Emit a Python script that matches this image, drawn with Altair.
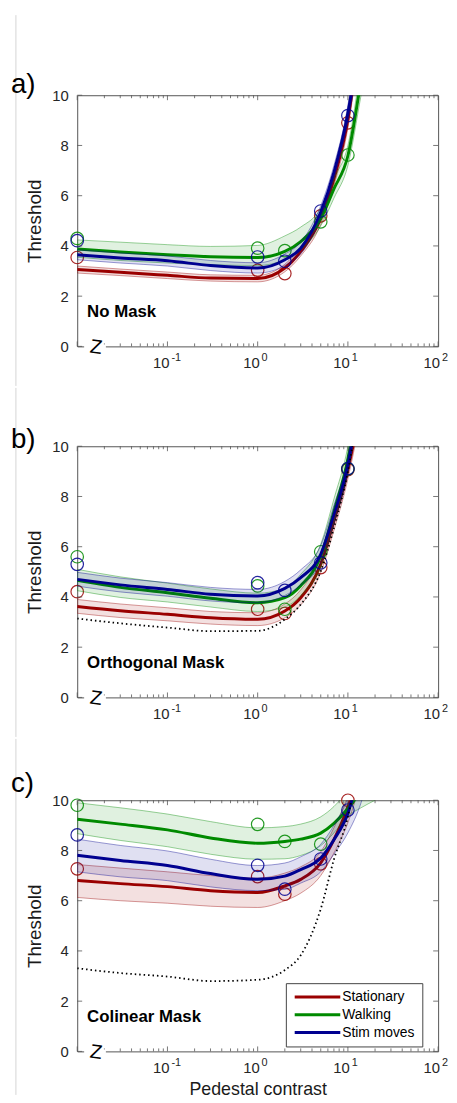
import altair as alt
import pandas as pd

SERIES = ["Stationary", "Walking", "Stim moves"]
COLORS = ["#9a0000", "#008a00", "#000090"]

X_CURVE = [0.01, 0.03, 0.1, 0.3, 1, 2, 3, 5, 7, 10, 14, 20]
X_POINTS = [0.01, 1, 2, 5, 10]

# ---- panel a) No Mask ----
A_RED_MID = [3.06, 2.95, 2.83, 2.72, 2.70, 3.12, 3.78, 5.09, 6.67, 9.03, 13.0, 18.0]
A_RED_HI = [3.20, 3.08, 2.96, 2.85, 2.83, 3.27, 3.95, 5.30, 6.95, 9.35, 13.5, 18.5]
A_RED_LO = [2.92, 2.82, 2.70, 2.60, 2.57, 2.97, 3.60, 4.85, 6.40, 8.70, 12.5, 17.5]
A_GRN_MID = [3.88, 3.76, 3.65, 3.57, 3.54, 3.78, 4.17, 5.09, 6.27, 7.59, 10.6, 14.0]
A_GRN_HI = [4.24, 4.15, 4.05, 3.98, 4.02, 4.40, 4.75, 5.50, 6.70, 8.00, 11.2, 15.0]
A_GRN_LO = [3.55, 3.42, 3.32, 3.25, 3.22, 3.45, 3.85, 4.80, 5.90, 7.20, 10.0, 13.0]
A_BLU_MID = [3.65, 3.52, 3.41, 3.22, 3.12, 3.45, 3.91, 5.35, 6.93, 9.29, 12.8, 18.0]
A_BLU_HI = [3.85, 3.72, 3.60, 3.42, 3.33, 3.68, 4.15, 5.60, 7.20, 9.60, 13.5, 18.5]
A_BLU_LO = [3.45, 3.32, 3.20, 3.02, 2.92, 3.22, 3.68, 5.10, 6.65, 8.95, 12.2, 17.5]
A_RED_PTS = [3.54, 3.03, 2.90, 5.20, 8.90]
A_GRN_PTS = [4.30, 3.91, 3.81, 4.96, 7.62]
A_BLU_PTS = [4.21, 3.56, 3.39, 5.39, 9.19]

# ---- panel b) Orthogonal Mask ----
B_RED_MID = [3.62, 3.45, 3.31, 3.17, 3.11, 3.44, 3.97, 5.30, 7.02, 9.07, 11.8, 16.0]
B_RED_HI = [3.90, 3.72, 3.57, 3.42, 3.37, 3.72, 4.28, 5.65, 7.40, 9.45, 12.4, 16.5]
B_RED_LO = [3.35, 3.18, 3.05, 2.92, 2.86, 3.17, 3.68, 4.97, 6.65, 8.70, 11.4, 15.5]
B_GRN_MID = [4.66, 4.38, 4.17, 3.95, 3.77, 3.97, 4.45, 5.63, 7.40, 9.50, 12.8, 17.0]
B_GRN_HI = [5.10, 4.80, 4.55, 4.32, 4.15, 4.35, 4.90, 6.10, 7.90, 10.0, 13.5, 17.5]
B_GRN_LO = [4.25, 3.98, 3.80, 3.60, 3.42, 3.60, 4.05, 5.20, 6.95, 9.00, 12.2, 16.5]
B_BLU_MID = [4.70, 4.48, 4.30, 4.11, 4.04, 4.34, 4.77, 5.70, 7.28, 9.27, 12.5, 17.0]
B_BLU_HI = [4.98, 4.75, 4.57, 4.38, 4.30, 4.62, 5.08, 6.05, 7.65, 9.60, 13.5, 17.5]
B_BLU_LO = [4.43, 4.20, 4.03, 3.84, 3.77, 4.06, 4.47, 5.35, 6.92, 8.95, 12.3, 16.5]
B_DOT = [3.14, 2.95, 2.78, 2.64, 2.65, 3.11, 3.70, 5.03, 6.75, 9.00, 12.2, 16.0]
B_RED_PTS = [4.21, 3.51, 3.34, 5.17, 9.07]
B_GRN_PTS = [5.60, 4.44, 3.51, 5.80, 9.10]
B_BLU_PTS = [5.30, 4.57, 4.26, 5.36, 9.11]

# ---- panel c) Colinear Mask ----
C_RED_MID = [6.81, 6.68, 6.56, 6.40, 6.33, 6.59, 6.85, 7.51, 8.43, 9.74, 11.5, 14.0]
C_RED_HI = [7.44, 7.30, 7.15, 7.00, 6.90, 7.10, 7.35, 7.95, 8.90, 10.2, 12.0, 14.5]
C_RED_LO = [6.13, 6.00, 5.90, 5.78, 5.73, 6.00, 6.30, 7.00, 7.90, 9.10, 10.8, 13.0]
C_GRN_MID = [9.24, 9.05, 8.82, 8.50, 8.29, 8.36, 8.45, 8.69, 9.08, 9.67, 10.4, 11.5]
C_GRN_HI = [9.90, 9.70, 9.45, 9.15, 8.90, 8.95, 9.05, 9.34, 9.75, 10.4, 11.2, 12.5]
C_GRN_LO = [8.67, 8.40, 8.15, 7.85, 7.65, 7.67, 7.80, 8.19, 8.70, 9.37, 9.70, 10.0]
C_BLU_MID = [7.81, 7.60, 7.40, 7.08, 6.85, 6.98, 7.24, 7.70, 8.43, 9.48, 11.5, 14.0]
C_BLU_HI = [8.45, 8.20, 7.98, 7.65, 7.40, 7.50, 7.75, 8.25, 9.00, 10.1, 12.0, 14.5]
C_BLU_LO = [7.15, 6.95, 6.80, 6.55, 6.40, 6.45, 6.70, 7.15, 7.85, 8.70, 9.90, 12.0]
C_DOT = [3.31, 3.12, 2.98, 2.80, 2.85, 3.24, 3.83, 5.67, 7.64, 9.34, 12.0, 15.0]
C_RED_PTS = [7.27, 6.96, 6.26, 7.47, 10.0]
C_GRN_PTS = [9.80, 9.04, 8.36, 8.25, None]
C_BLU_PTS = [8.62, 7.41, 6.46, 7.66, 9.61]

Y_TICKS = [0, 2, 4, 6, 8, 10]
X_MAJOR = [0.01, 0.1, 1, 10, 100]
X_MINOR = [m * d for d in [0.01, 0.1, 1, 10] for m in range(2, 10)]
X_LABEL_VALUES = [0.1, 1, 10, 100]
X_LABEL_BASE = ["10", "10", "10", "10"]
X_LABEL_EXP = ["-1", "0", "1", "2"]

W, H = 365, 254
FONT = "Liberation Sans"
TEXT_COL = "#262626"

x_scale = alt.Scale(type="log", domain=[0.01, 100], nice=False)
y_scale = alt.Scale(domain=[0, 10], nice=False)
col_scale = alt.Scale(domain=SERIES, range=COLORS)


def panel(letter, letter_y, name, curves, points, dot, show_legend, show_xtitle, rule_top, rule_bottom):
    layers = []
    xenc = alt.X("x:Q", scale=x_scale,
                 axis=alt.Axis(values=X_LABEL_VALUES, ticks=False, domain=False, grid=False, labels=False,
                               title="Pedestal contrast" if show_xtitle else None,
                               titleFontSize=18, titleFontWeight="normal", titlePadding=30))
    yenc = alt.Y("y:Q", scale=y_scale,
                 axis=alt.Axis(values=Y_TICKS, ticks=False, domain=False, grid=False,
                               labelPadding=9, labelFontSize=15, title="Threshold",
                               titleFontSize=19, titleFontWeight="normal", titlePadding=7))
    # thin gray page line at left
    layers.append(alt.Chart(pd.DataFrame({"k": [0]})).mark_rule(color="#d4d4d4", strokeWidth=1).encode(
        x=alt.value(-62), y=alt.value(rule_top), y2=alt.value(rule_bottom)))
    for i, s in enumerate(SERIES):
        mid, lo, hi = curves[i]
        cdf = pd.DataFrame({"x": X_CURVE, "y": mid, "lo": lo, "hi": hi, "series": s})
        pts = [(xv, yv) for xv, yv in zip(X_POINTS, points[i]) if yv is not None]
        pdf = pd.DataFrame({"x": [p[0] for p in pts], "y": [p[1] for p in pts], "series": s})
        band = alt.Chart(cdf).mark_area(interpolate="monotone", clip=True, fillOpacity=0.12,
                                        strokeOpacity=0.5, strokeWidth=0.8).encode(
            x=xenc, y=alt.Y("lo:Q", scale=y_scale), y2="hi:Q",
            fill=alt.Fill("series:N", scale=col_scale, legend=None),
            stroke=alt.Stroke("series:N", scale=col_scale, legend=None))
        leg = None
        if show_legend:
            leg = alt.Legend(orient="none", legendX=211, legendY=185, title=None,
                             strokeColor="#444", fillColor="white", padding=7,
                             symbolType="M-5,0H5", symbolSize=85, symbolStrokeWidth=3,
                             symbolOffset=18, labelOffset=18,
                             labelFontSize=14, labelFont=FONT, labelColor="black",
                             rowPadding=4)
        line = alt.Chart(cdf).mark_line(interpolate="monotone", clip=True, strokeWidth=3).encode(
            x=xenc, y=yenc, color=alt.Color("series:N", scale=col_scale, legend=leg))
        pt = alt.Chart(pdf).mark_point(shape="circle", size=160, strokeWidth=1.2, opacity=0.85,
                                       filled=False).encode(
            x=xenc, y=alt.Y("y:Q", scale=y_scale),
            stroke=alt.Stroke("series:N", scale=col_scale, legend=None))
        layers += [band, pt, line]
    if dot is not None:
        ddf = pd.DataFrame({"x": X_CURVE, "y": dot})
        layers.append(alt.Chart(ddf).mark_line(interpolate="monotone", clip=True, color="black",
                                               strokeWidth=1.8, strokeDash=[1.5, 3]).encode(
            x=xenc, y=alt.Y("y:Q", scale=y_scale)))
    # inner ticks
    tk = dict(color="#555", strokeWidth=0.8)
    xmaj = pd.DataFrame({"x": X_MAJOR})
    xmin = pd.DataFrame({"x": X_MINOR})
    ytk = pd.DataFrame({"y": Y_TICKS})
    layers += [
        alt.Chart(xmaj).mark_rule(**tk).encode(x=alt.X("x:Q", scale=x_scale), y=alt.value(H), y2=alt.value(H - 5)),
        alt.Chart(xmaj).mark_rule(**tk).encode(x=alt.X("x:Q", scale=x_scale), y=alt.value(0), y2=alt.value(5)),
        alt.Chart(xmin).mark_rule(**tk).encode(x=alt.X("x:Q", scale=x_scale), y=alt.value(H), y2=alt.value(H - 3)),
        alt.Chart(xmin).mark_rule(**tk).encode(x=alt.X("x:Q", scale=x_scale), y=alt.value(0), y2=alt.value(3)),
        alt.Chart(ytk).mark_rule(**tk).encode(y=alt.Y("y:Q", scale=y_scale), x=alt.value(0), x2=alt.value(5)),
        alt.Chart(ytk).mark_rule(**tk).encode(y=alt.Y("y:Q", scale=y_scale), x=alt.value(W), x2=alt.value(W - 5)),
    ]
    # x tick labels: "10" with a raised exponent
    ldf = pd.DataFrame({"x": X_LABEL_VALUES, "base": X_LABEL_BASE, "exp": X_LABEL_EXP})
    layers.append(alt.Chart(ldf).mark_text(font=FONT, fontSize=15, color=TEXT_COL, align="right",
                                           baseline="alphabetic", dx=2).encode(
        x=alt.X("x:Q", scale=x_scale), y=alt.value(H + 22), text="base:N"))
    layers.append(alt.Chart(ldf).mark_text(font=FONT, fontSize=11, color=TEXT_COL, align="left",
                                           baseline="alphabetic", dx=4).encode(
        x=alt.X("x:Q", scale=x_scale), y=alt.value(H + 15), text="exp:N"))
    # axis break
    layers.append(alt.Chart(pd.DataFrame({"k": [0]})).mark_rect(color="white").encode(
        x=alt.value(7), x2=alt.value(29), y=alt.value(H - 2), y2=alt.value(H + 2)))
    layers.append(alt.Chart(pd.DataFrame({"t": ["Z"]})).mark_text(
        font=FONT, fontSize=20, color="black", align="center", baseline="middle", angle=8).encode(
        text="t:N", x=alt.value(19), y=alt.value(H + 1)))
    # condition name
    layers.append(alt.Chart(pd.DataFrame({"t": [name]})).mark_text(
        font=FONT, fontSize=17, fontWeight="bold", color="black", align="left", baseline="middle").encode(
        text="t:N", x=alt.value(10), y=alt.value(219)))
    # panel letter
    layers.append(alt.Chart(pd.DataFrame({"t": [letter]})).mark_text(
        font=FONT, fontSize=28, color="black", align="left", baseline="middle").encode(
        text="t:N", x=alt.value(-67), y=alt.value(letter_y)))
    return alt.layer(*layers).properties(width=W, height=H)


pa = panel("a)", -10, "No Mask",
           [(A_RED_MID, A_RED_LO, A_RED_HI), (A_GRN_MID, A_GRN_LO, A_GRN_HI), (A_BLU_MID, A_BLU_LO, A_BLU_HI)],
           [A_RED_PTS, A_GRN_PTS, A_BLU_PTS], None, False, False, -81, H + 40)
pb = panel("b)", -6, "Orthogonal Mask",
           [(B_RED_MID, B_RED_LO, B_RED_HI), (B_GRN_MID, B_GRN_LO, B_GRN_HI), (B_BLU_MID, B_BLU_LO, B_BLU_HI)],
           [B_RED_PTS, B_GRN_PTS, B_BLU_PTS], B_DOT, False, False, -59, H + 40)
pc = panel("c)", -16, "Colinear Mask",
           [(C_RED_MID, C_RED_LO, C_RED_HI), (C_GRN_MID, C_GRN_LO, C_GRN_HI), (C_BLU_MID, C_BLU_LO, C_BLU_HI)],
           [C_RED_PTS, C_GRN_PTS, C_BLU_PTS], C_DOT, True, True, -62, H + 44)

chart = alt.vconcat(pa, pb, pc, spacing=0).resolve_legend(color="independent").properties(
    padding={"left": 2, "top": 0, "right": 0, "bottom": 0}
).configure_view(stroke="#555", strokeWidth=1).configure_axis(
    labelFont=FONT, titleFont=FONT, labelColor=TEXT_COL, titleColor="#1a1a1a"
).configure_text(font=FONT)

chart.save("out.html", embed_options={"renderer": "svg", "actions": False})
